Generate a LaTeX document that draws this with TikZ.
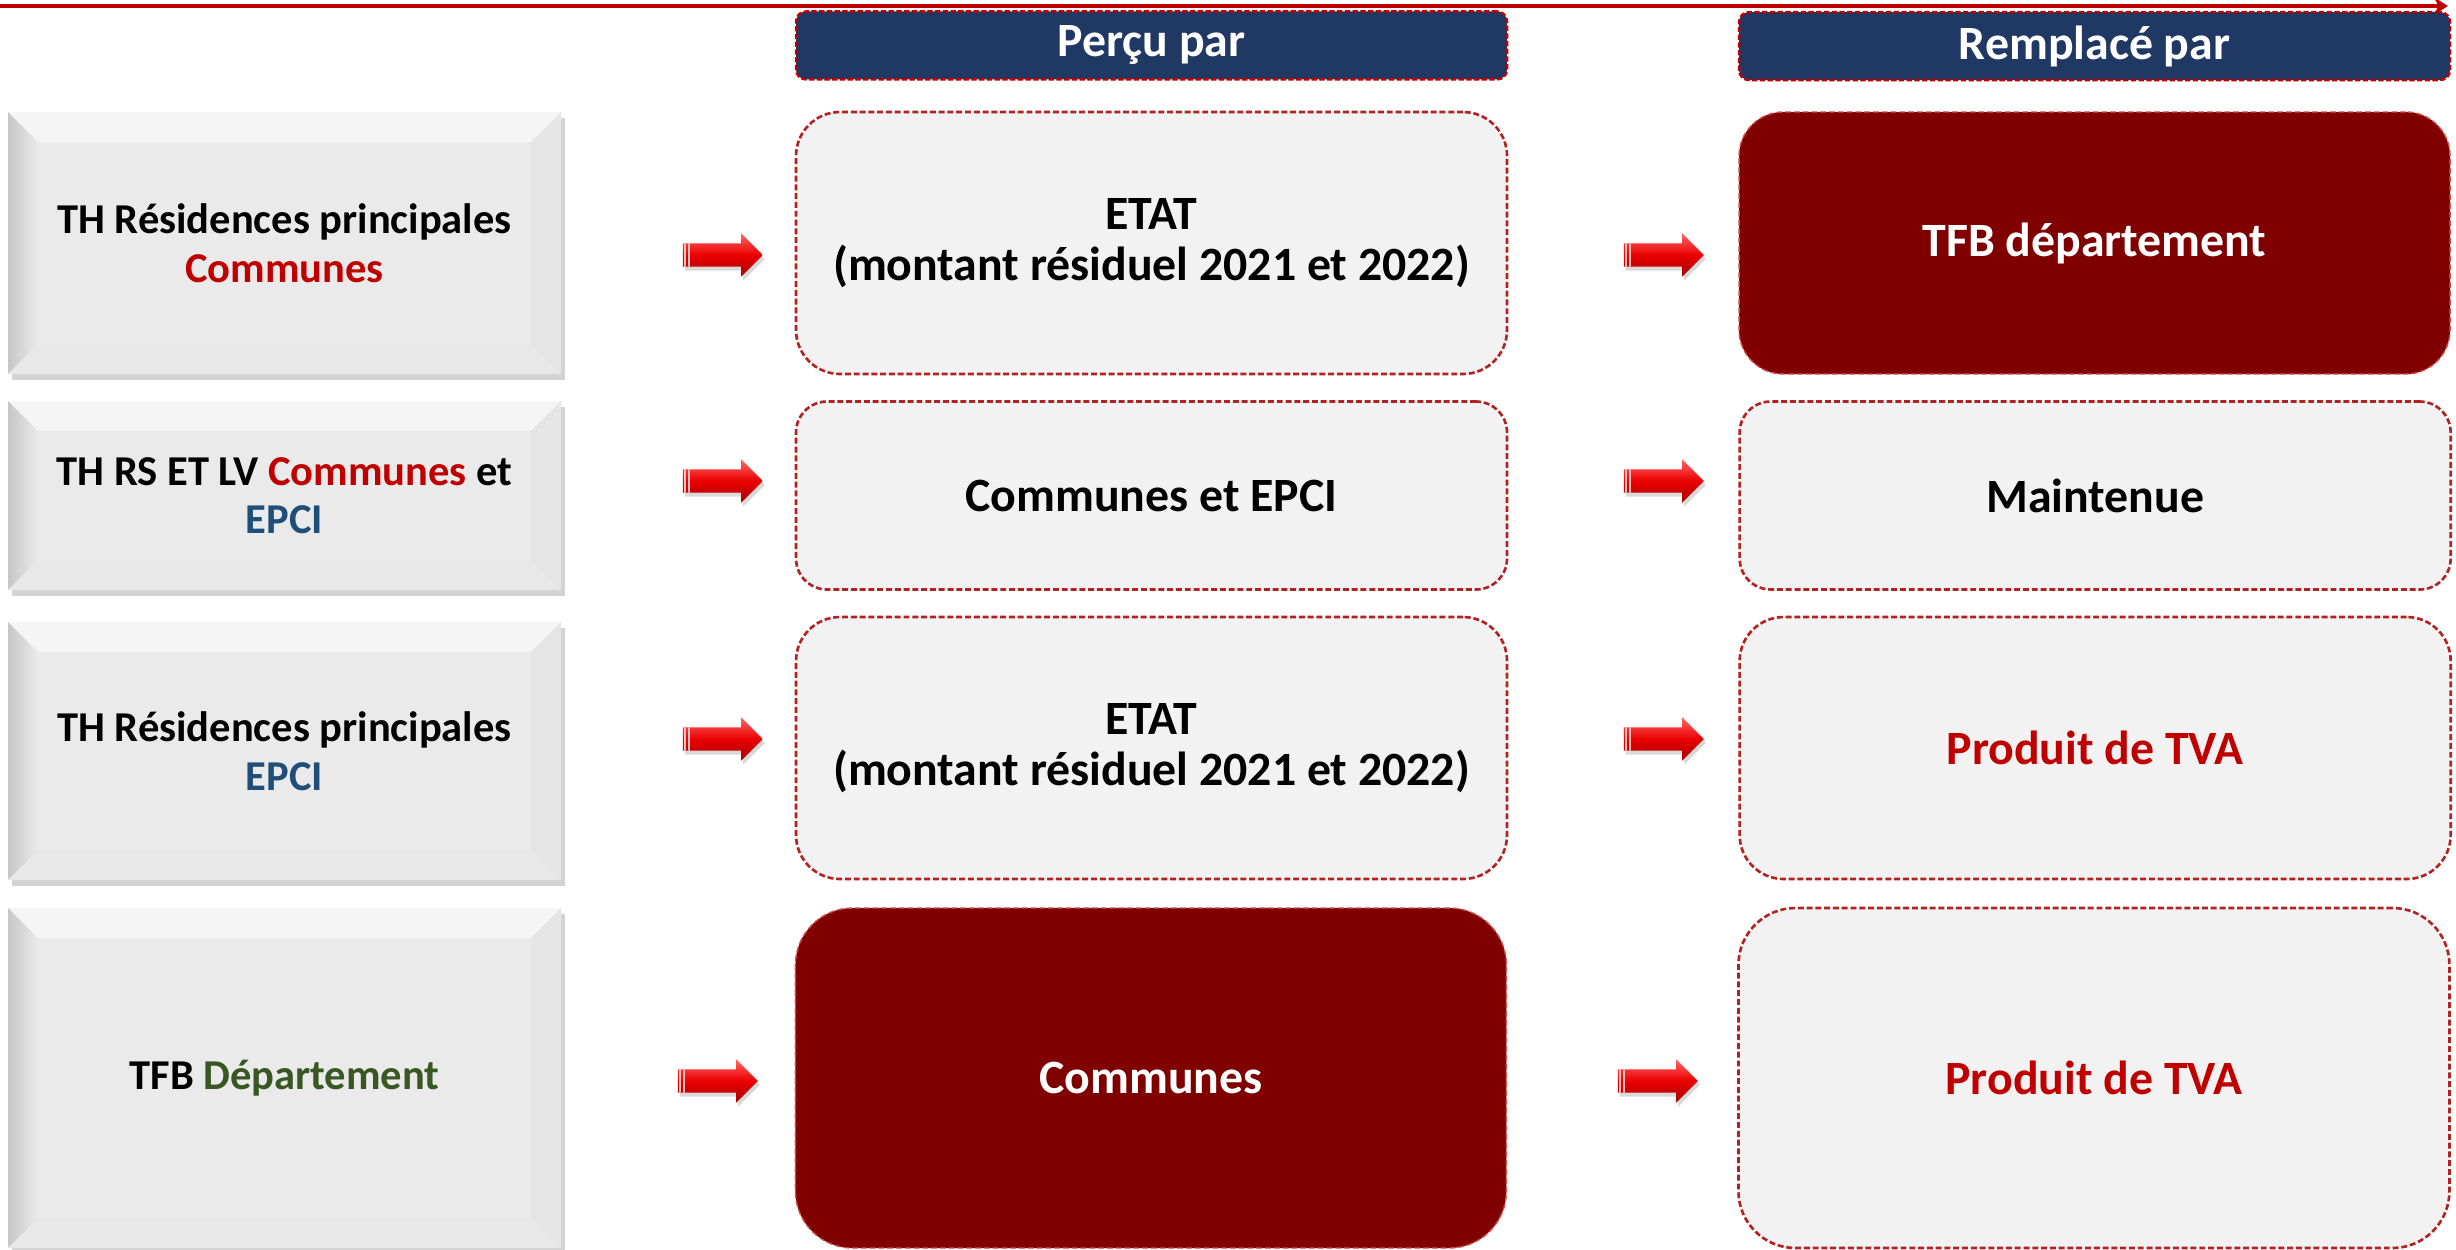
\documentclass[tikz,border=0pt]{standalone}
\usepackage{fontspec}
\setmainfont{Carlito}
\usepackage{tikz}
\usetikzlibrary{positioning,shapes.arrows,shadows,calc,arrows.meta}

\definecolor{bordeaux}{HTML}{800000}
\definecolor{rougeF}{HTML}{C00000}
\definecolor{pointille}{HTML}{B22222}
\definecolor{marine}{HTML}{1F3864}
\definecolor{bleuE}{HTML}{1F4E79}
\definecolor{vertD}{HTML}{385723}
\definecolor{grisF}{HTML}{F2F2F2}
\definecolor{grisB}{HTML}{EAEAEA}

\begin{document}
\begin{tikzpicture}[node distance=2.33cm,
		every node/.style={align=center,inner sep=2pt}]
		\tikzset{source/.style={minimum width=5.53cm,fill=grisB,
				font=\fontsize{12.1}{13.8}\selectfont\bfseries,
				drop shadow={shadow xshift=0.04cm,shadow yshift=-0.06cm,opacity=0.35},
				path picture={
					\coordinate (nw) at (path picture bounding box.north west);
					\coordinate (ne) at (path picture bounding box.north east);
					\coordinate (sw) at (path picture bounding box.south west);
					\coordinate (se) at (path picture bounding box.south east);
					\fill[white!96!black] (nw) -- (ne) -- ($(ne)+(-0.3,-0.3)$) -- ($(nw)+(0.3,-0.3)$) -- cycle;
					\shade[left color=black!22,right color=grisB] (nw) -- ($(nw)+(0.3,-0.3)$) -- ($(sw)+(0.3,0.3)$) -- (sw) -- cycle;
					\fill[white!90!black] (ne) -- (se) -- ($(se)+(-0.3,0.3)$) -- ($(ne)+(-0.3,-0.3)$) -- cycle;
					\fill[black!9] (sw) -- (se) -- ($(se)+(-0.3,0.3)$) -- ($(sw)+(0.3,0.3)$) -- cycle;
				}},
			cadre/.style={minimum width=7.11cm,fill=grisF,draw=pointille,line width=0.75pt,
				dash pattern=on 1.7pt off 0.8pt,
				font=\fontsize{13.6}{14.5}\selectfont\bfseries},
			fonce/.style={cadre,fill=bordeaux,draw=rougeF!70!white,line width=0.4pt,text=white},
			titre/.style={minimum width=7.11cm,minimum height=0.68cm,fill=marine,draw=rougeF,
				line width=0.7pt,dash pattern=on 1.5pt off 0.7pt,rounded corners=0.1cm,
				text=white,font=\fontsize{13.6}{14.5}\selectfont\bfseries},
			fleche/.style={single arrow,single arrow head extend=0.1cm,single arrow tip angle=90,
				minimum height=0.8cm,inner xsep=0pt,inner ysep=0.11cm,
				top color=red!60!white,bottom color=red!65!black,middle color=red!92!black,
				drop shadow={shadow xshift=0.02cm,shadow yshift=-0.04cm,opacity=0.3},
				path picture={
					\draw[white!75!red,line width=0.5pt] ($(path picture bounding box.west)+(0.025,0)$) -- ++(0,0.3) -- ++(0,-0.6);
					\draw[white!75!red,line width=0.5pt] ($(path picture bounding box.west)+(0.06,0)$) -- ++(0,0.3) -- ++(0,-0.6);
				}}}
		
		\useasboundingbox (0,0) rectangle (24.56,-12.49);
		
		% ligne du haut
		\coordinate (ligneA) at (0,-0.06);
		\coordinate (ligneB) at (24.48,-0.06);
		\draw[rougeF,line width=1pt,-{Stealth[length=4pt,width=5pt]}] (ligneA) -- (ligneB);
		
		% colonne de gauche
		\node[source,minimum height=2.62cm] (th1) at (2.845,-2.43)
		{TH Résidences principales\\\textcolor{rougeF}{Communes}};
		\node[source,minimum height=1.89cm] (th2) at (2.845,-4.955)
		{TH RS ET LV \textcolor{rougeF}{Communes} et\\\textcolor{bleuE}{EPCI}};
		\node[source,minimum height=2.58cm] (th3) at (2.845,-7.51)
		{TH Résidences principales\\\textcolor{bleuE}{EPCI}};
		\node[source,minimum height=3.40cm] (tfb) at (2.845,-10.78)
		{TFB \textcolor{vertD}{Département}};
		
		% perçu par
		\node[cadre,minimum height=2.62cm,rounded corners=0.44cm] (etat1) [right=of th1]
		{ETAT\\(montant résiduel 2021 et 2022)};
		\node[cadre,minimum height=1.88cm,rounded corners=0.31cm] (comepci) [right=of th2]
		{Communes et EPCI};
		\node[cadre,minimum height=2.62cm,rounded corners=0.44cm,yshift=0.03cm] (etat2) [right=of th3]
		{ETAT\\(montant résiduel 2021 et 2022)};
		\node[fonce,minimum height=3.40cm,rounded corners=0.57cm] (communes) [right=of tfb]
		{Communes};
		
		% remplacé par
		\node[fonce,minimum height=2.62cm,rounded corners=0.44cm] (tfbdep) [right=2.30cm of etat1]
		{TFB département};
		\node[cadre,minimum height=1.88cm,rounded corners=0.31cm] (maint) [right=2.30cm of comepci]
		{Maintenue};
		\node[cadre,minimum height=2.62cm,rounded corners=0.44cm,text=rougeF] (tva1) [right=2.30cm of etat2]
		{Produit de TVA};
		\node[cadre,minimum height=3.40cm,rounded corners=0.57cm,text=rougeF] (tva2) [right=2.30cm of communes]
		{Produit de TVA};
		
		% en-tetes
		\node[titre] (percu) [above=0.30cm of etat1] {Perçu par};
		\node[titre] (remplace) [above=0.30cm of tfbdep] {Remplacé par};
		
		% fleches
		\node[fleche] (f1) at (7.17,-2.55) {};
		\node[fleche] (f2) at (7.17,-4.81) {};
		\node[fleche] (f3) at (7.17,-7.39) {};
		\node[fleche] (f4) at (7.12,-10.81) {};
		\node[fleche] (g1) at (16.58,-2.55) {};
		\node[fleche] (g2) at (16.58,-4.81) {};
		\node[fleche] (g3) at (16.58,-7.39) {};
		\node[fleche] (g4) at (16.52,-10.81) {};
\end{tikzpicture}
\end{document}
